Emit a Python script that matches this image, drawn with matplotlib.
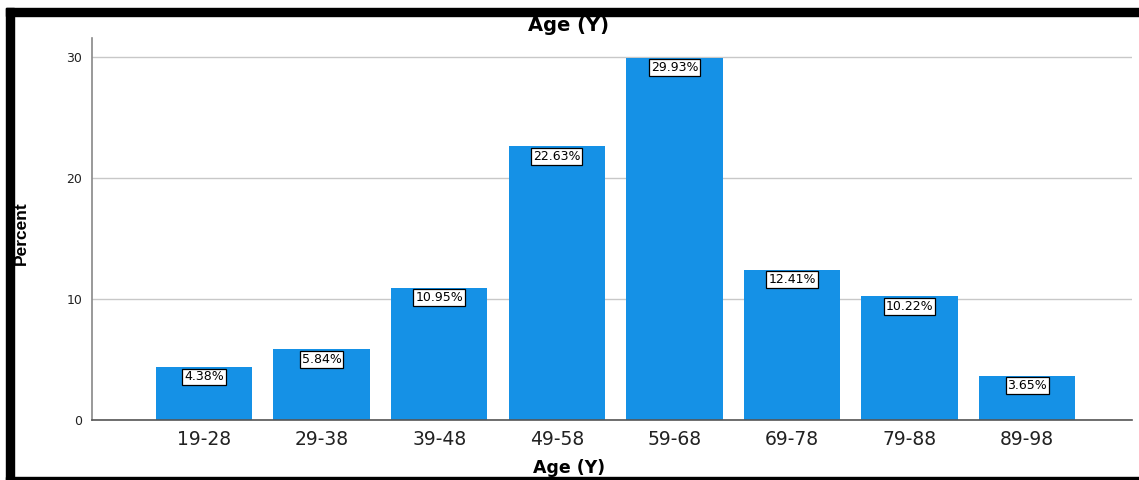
import numpy as np
import matplotlib.pyplot as plt
from matplotlib.patches import Rectangle

age_groups = ['19-28', '29-38', '39-48', '49-58', '59-68', '69-78', '79-88', '89-98']
percent = [4.38, 5.84, 10.95, 22.63, 29.93, 12.41, 10.22, 3.65]
y_ticks = [0, 10, 20, 30]

BAR_COLOR = '#1591e6'


def plot_age_chart():
    fig = plt.figure(figsize=(11.39, 4.80), dpi=100)
    fig.patch.set_facecolor('white')

    ax = fig.add_axes([0.0808, 0.125, 0.913, 0.7958])
    idx = np.arange(len(age_groups))
    bars = ax.bar(idx, percent, width=0.82, color=BAR_COLOR, zorder=2)

    for rect, val in zip(bars, percent):
        ax.annotate('%.2f%%' % val,
                    xy=(rect.get_x() + rect.get_width() / 2, val),
                    xytext=(0, -2.5), textcoords='offset points',
                    ha='center', va='top', fontsize=9, family='DejaVu Sans',
                    bbox=dict(boxstyle='square,pad=0.15', fc='white', ec='black', lw=0.9),
                    zorder=3)

    ax.set_xlim(-0.952, 7.89)
    ax.set_ylim(0, 31.57)
    ax.set_xticks(idx)
    ax.set_xticklabels(age_groups, fontsize=13.5, color='#222222', family='DejaVu Sans')
    ax.set_yticks(y_ticks)
    ax.set_yticklabels([str(t) for t in y_ticks], fontsize=9, color='#222222', family='DejaVu Sans')
    ax.tick_params(axis='x', length=0, pad=7)
    ax.tick_params(axis='y', length=0, pad=7)

    ax.yaxis.grid(True, color='#c8c8c8', lw=1.0, zorder=0)
    ax.set_axisbelow(True)
    for side in ('top', 'right'):
        ax.spines[side].set_visible(False)
    ax.spines['left'].set_color('#888888')
    ax.spines['left'].set_linewidth(1.2)
    ax.spines['bottom'].set_color('#555555')
    ax.spines['bottom'].set_linewidth(1.2)

    ax.set_ylabel('Percent', fontsize=12.5, fontweight='bold',
                  family=['Liberation Sans Narrow', 'Liberation Sans'])
    ax.yaxis.set_label_coords(-0.061, 0.49)

    fig.text(0.4995, 0.946, 'Age (Y)', ha='center', va='center',
             fontsize=14, fontweight='bold', family='DejaVu Sans')
    fig.text(0.4995, 0.026, 'Age (Y)', ha='center', va='center',
             fontsize=12.5, fontweight='bold', family='DejaVu Sans')

    # black frame around the chart (top, left, bottom)
    W, H = 1139.0, 480.0
    frame = [(6, 8, W - 6, 8), (6, 8, 8, H - 8), (6, 477, W - 6, 3)]
    for x, y, w, h in frame:
        fig.patches.append(Rectangle((x / W, 1 - (y + h) / H), w / W, h / H,
                                     transform=fig.transFigure, color='black', zorder=10))

    fig.savefig('out.png', dpi=100)


if __name__ == "__main__":
    plot_age_chart()
